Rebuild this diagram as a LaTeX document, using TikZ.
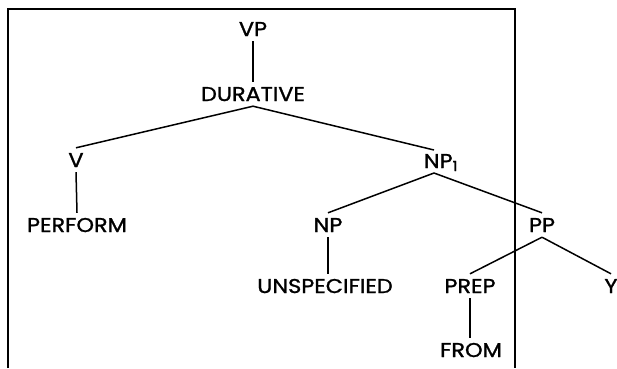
\documentclass[tikz,border=0pt]{standalone}
\usepackage{fontspec}
\setmainfont{Poppins}[FakeBold=1.2]
\newcommand{\lbltxt}[1]{\scalebox{1.12}[1]{#1}}
\begin{document}
\begin{tikzpicture}[x=1pt,y=-1pt,
  lbl/.style={anchor=base,inner xsep=0pt,inner ysep=5pt,text height=14pt,text depth=0pt,font=\fontsize{20}{22}\selectfont},
  edge/.style={line width=1.5pt},
  frame/.style={line width=1.5pt}]
\useasboundingbox (0,0) rectangle (617,368);
\draw[frame] (8,368) -- (8,9) -- (515,9) -- (515,368);
\node[lbl] (vp) at (253,36) {\lbltxt{VP}};
\node[lbl] (dur) at (253,101) {\lbltxt{DURATIVE}};
\node[lbl] (v) at (76,167) {\lbltxt{V}};
\node[lbl] (np1) at (441,168) {\lbltxt{NP\textsubscript{1}}};
\node[lbl] (perf) at (77,232) {\lbltxt{PERFORM}};
\node[lbl] (np) at (328,232) {\lbltxt{NP}};
\node[lbl] (pp) at (542,232) {\lbltxt{PP}};
\node[lbl] (unsp) at (325,293) {\lbltxt{UNSPECIFIED}};
\node[lbl] (prep) at (470,293) {\lbltxt{PREP}};
\node[lbl] (y) at (611,293) {\lbltxt{Y}};
\node[lbl] (from) at (471,357) {\lbltxt{FROM}};
\coordinate (np1t) at (434,150);
\coordinate (np1b) at (434,173);
\draw[edge] (vp.south) -- (dur.north);
\draw[edge] (dur.south) -- (v.north);
\draw[edge] (dur.south) -- (np1t);
\draw[edge] (v.south) -- (perf.north);
\draw[edge] (np1b) -- (np.north);
\draw[edge] (np1b) -- (pp.north);
\draw[edge] (np.south) -- (np.south |- unsp.north);
\draw[edge] (pp.south) -- (prep.north);
\draw[edge] (pp.south) -- (y.north);
\draw[edge] (prep.south) -- (prep.south |- from.north);
\end{tikzpicture}
\end{document}
